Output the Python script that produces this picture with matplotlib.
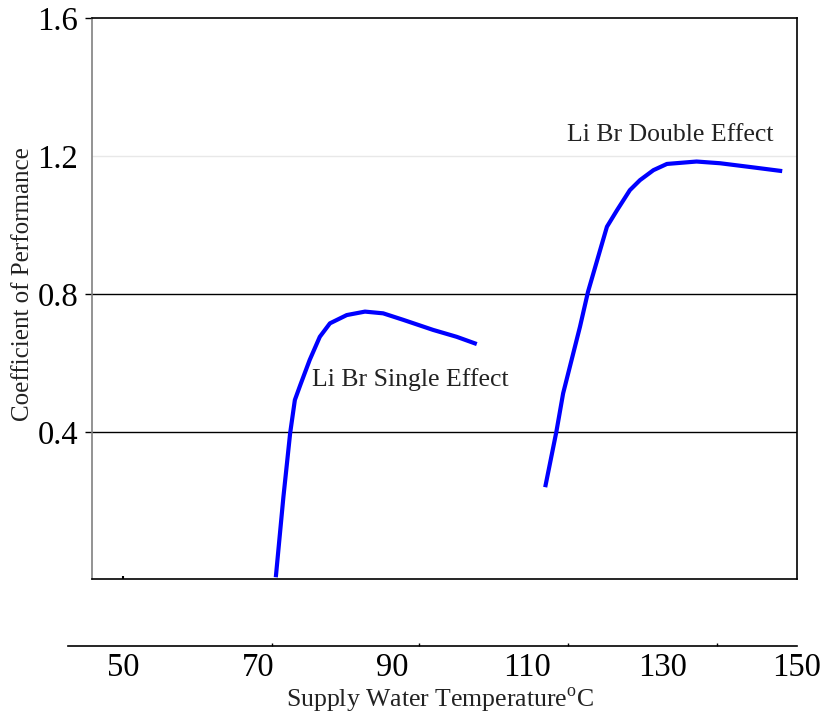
import matplotlib
matplotlib.use("Agg")
import matplotlib.pyplot as plt

plt.rcParams['font.family'] = ['Liberation Serif', 'DejaVu Serif']
plt.rcParams['mathtext.fontset'] = 'custom'
plt.rcParams['mathtext.rm'] = 'Liberation Serif'

# data (temperature in degC, COP)
single_t = [72.7, 73.8, 74.8, 75.5, 76.3, 77.7, 79.2, 80.7, 83.2, 85.9, 88.6, 91.6, 96.0, 99.5, 102.2]
single_cop = [-0.015, 0.212, 0.397, 0.493, 0.536, 0.609, 0.676, 0.715, 0.739, 0.749, 0.744, 0.725, 0.696, 0.676, 0.657]
double_t = [112.7, 114.3, 115.3, 117.8, 119.0, 120.8, 121.8, 123.3, 125.2, 126.7, 128.7, 130.7, 135.1, 138.6, 143.5, 147.5]
double_cop = [0.246, 0.401, 0.512, 0.705, 0.807, 0.928, 0.995, 1.043, 1.101, 1.130, 1.159, 1.177, 1.184, 1.179, 1.167, 1.157]
y_ticks = [0.4, 0.8, 1.2, 1.6]
x_ticks = [50, 70, 90, 110, 130, 150]
x_minor = [72.1, 93.9, 116.0, 138.1]

W, H = 822, 716
fig = plt.figure(figsize=(W / 100, H / 100), dpi=100)

# main box
ax = fig.add_axes([92 / W, 1 - 579 / H, (797 - 92) / W, (579 - 18) / H])
ax.plot(single_t, single_cop, color='#0000ff', lw=3)
ax.plot(double_t, double_cop, color='#0000ff', lw=3)
ax.set_xlim(45.4, 150)
ax.set_ylim(-0.026, 1.6)

ax.axhline(0.4, color='black', lw=1, zorder=0)
ax.axhline(0.8, color='black', lw=1, zorder=0)
ax.axhline(1.2, color='#e8e8e8', lw=1, zorder=0)

ax.set_yticks(y_ticks)
ax.set_yticklabels(['0.4', '0.8', '1.2', '1.6'], fontsize=23.5)
ax.tick_params(axis='y', length=5, width=1, pad=5, color='black')
ax.yaxis.get_major_ticks()[2].tick1line.set_visible(False)
ax.set_xticks([50])
ax.set_xticklabels([])
ax.tick_params(axis='x', direction='in', length=2, width=1.5)

ax.spines['left'].set_color('#808080')
for s in ['left', 'right', 'top', 'bottom']:
    ax.spines[s].set_linewidth(1.2)

ax.text(92.6, 0.551, 'Li Br Single Effect', fontsize=18.5, color='#222222', va='center', ha='center')
ax.text(131.2, 1.261, 'Li Br Double Effect', fontsize=18.5, color='#222222', va='center', ha='center')

# separate temperature scale below the box
ax2 = fig.add_axes([68 / W, 1 - 646 / H, (797 - 68) / W, 0.001])
ax2.set_xlim(41.84, 150)
ax2.set_ylim(0, 1)
for s in ['left', 'right', 'top']:
    ax2.spines[s].set_visible(False)
ax2.spines['bottom'].set_linewidth(1.2)
ax2.set_yticks([])
ax2.set_xticks(x_ticks)
ax2.set_xticklabels([str(v) for v in x_ticks], fontsize=23.5)
ax2.tick_params(axis='x', length=0, pad=5)
ax2.set_xticks(x_minor, minor=True)
ax2.tick_params(axis='x', which='minor', direction='in', length=2, width=1)
ax2.patch.set_visible(False)

fig.text(23 / W, 1 - 284 / H, 'Coefficient of Performance', rotation=90,
         fontsize=18, ha='center', va='center', color='#222222')
fig.text(440 / W, 1 - 700 / H, r'Supply Water Temperature$^{\mathrm{o}}$C',
         fontsize=18.5, ha='center', va='center', color='#222222')

fig.savefig('out.png', dpi=100)
